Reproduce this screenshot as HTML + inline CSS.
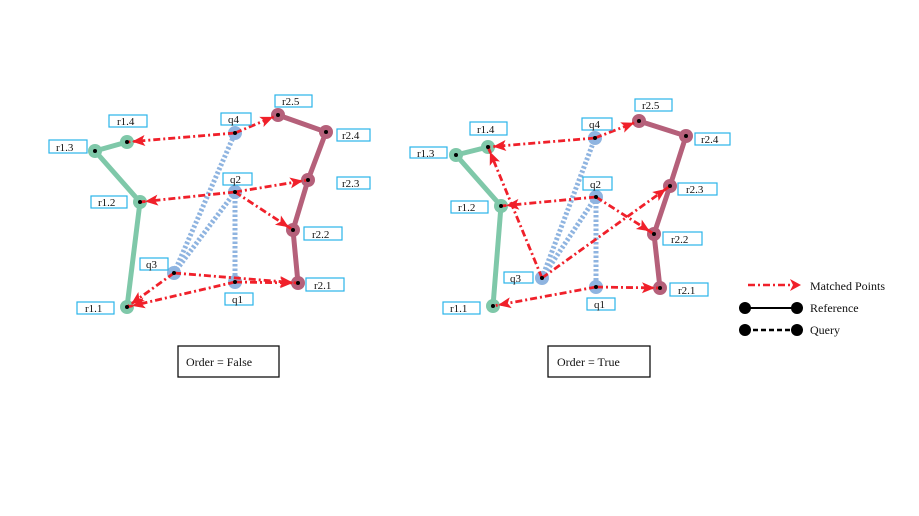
<!DOCTYPE html>
<html><head><meta charset="utf-8"><style>
html,body{margin:0;padding:0;background:#fff;}
svg{display:block;}
text{font-family:"Liberation Serif",serif;font-size:11px;fill:#111;}
.lb{fill:#fff;stroke:#2ab4ea;stroke-width:1.2;}
.g{stroke:#7fc8a9;stroke-width:5;fill:none;stroke-linejoin:round;stroke-linecap:round;}
.p{stroke:#b5607a;stroke-width:5;fill:none;stroke-linejoin:round;stroke-linecap:round;}
.q{stroke:#8fb4e0;stroke-width:5;stroke-dasharray:2.5 2;fill:none;}
.a{stroke:#f0202a;stroke-width:2.8;stroke-dasharray:7 3 2 3;fill:none;marker-end:url(#ah);}
</style></head><body>
<svg width="919" height="516" viewBox="0 0 919 516" xmlns="http://www.w3.org/2000/svg">
<defs>
<marker id="ah" markerUnits="userSpaceOnUse" markerWidth="13" markerHeight="11" refX="18" refY="5.5" orient="auto" overflow="visible">
<path d="M0,0 L13,5.5 L0,11 L3,5.5 z" fill="#f0202a"/>
</marker>
</defs>

<!-- LEFT PANEL -->
<polyline class="g" points="127,307 140,202 95,151 127,142"/>
<polyline class="p" points="298,283 293,230 308,180 326,132 278,115"/>
<line class="q" x1="174" y1="273" x2="235" y2="133"/>
<line class="q" x1="174" y1="273" x2="235" y2="192"/>
<line class="q" x1="235" y1="192" x2="235" y2="282"/>
<g fill="#7fc8a9"><circle cx="127" cy="307" r="7"/><circle cx="140" cy="202" r="7"/><circle cx="95" cy="151" r="7"/><circle cx="127" cy="142" r="7"/></g>
<g fill="#b5607a"><circle cx="298" cy="283" r="7"/><circle cx="293" cy="230" r="7"/><circle cx="308" cy="180" r="7"/><circle cx="326" cy="132" r="7"/><circle cx="278" cy="115" r="7"/></g>
<g fill="#8fb4e0"><circle cx="235" cy="133" r="7"/><circle cx="235" cy="192" r="7"/><circle cx="174" cy="273" r="7"/><circle cx="235" cy="282" r="7"/></g>
<line class="a" x1="235" y1="133" x2="127" y2="142"/>
<line class="a" x1="235" y1="133" x2="278" y2="115"/>
<line class="a" x1="235" y1="192" x2="140" y2="202"/>
<line class="a" x1="235" y1="192" x2="308" y2="180"/>
<line class="a" x1="235" y1="192" x2="293" y2="230"/>
<line class="a" x1="174" y1="273" x2="127" y2="307"/>
<line class="a" x1="174" y1="273" x2="298" y2="283"/>
<line class="a" x1="235" y1="282" x2="127" y2="307"/>
<line class="a" x1="235" y1="282" x2="298" y2="283"/>
<g fill="#000"><circle cx="127" cy="307" r="2"/><circle cx="140" cy="202" r="2"/><circle cx="95" cy="151" r="2"/><circle cx="127" cy="142" r="2"/><circle cx="298" cy="283" r="2"/><circle cx="293" cy="230" r="2"/><circle cx="308" cy="180" r="2"/><circle cx="326" cy="132" r="2"/><circle cx="278" cy="115" r="2"/><circle cx="235" cy="133" r="2"/><circle cx="235" cy="192" r="2"/><circle cx="174" cy="273" r="2"/><circle cx="235" cy="282" r="2"/></g>
<g>
<rect class="lb" x="275" y="95" width="37" height="12"/><text x="282" y="105">r2.5</text>
<rect class="lb" x="109" y="115" width="38" height="12"/><text x="117" y="125">r1.4</text>
<rect class="lb" x="49" y="140" width="38" height="13"/><text x="56" y="151">r1.3</text>
<rect class="lb" x="91" y="196" width="36" height="12"/><text x="98" y="206">r1.2</text>
<rect class="lb" x="77" y="302" width="37" height="12"/><text x="85" y="312">r1.1</text>
<rect class="lb" x="221" y="113" width="30" height="12"/><text x="228" y="123">q4</text>
<rect class="lb" x="223" y="173" width="29" height="12"/><text x="230" y="183">q2</text>
<rect class="lb" x="140" y="258" width="28" height="12"/><text x="146" y="268">q3</text>
<rect class="lb" x="225" y="293" width="28" height="12"/><text x="232" y="303">q1</text>
<rect class="lb" x="337" y="129" width="33" height="12"/><text x="342" y="139">r2.4</text>
<rect class="lb" x="337" y="177" width="33" height="12"/><text x="342" y="187">r2.3</text>
<rect class="lb" x="304" y="227" width="38" height="13"/><text x="312" y="238">r2.2</text>
<rect class="lb" x="306" y="278" width="38" height="13"/><text x="314" y="289">r2.1</text>
</g>
<rect x="178" y="346" width="101" height="31" fill="#fff" stroke="#111" stroke-width="1.3"/>
<text x="186" y="366" style="font-size:12px">Order = False</text>

<!-- RIGHT PANEL -->
<polyline class="g" points="493,306 501,206 456,155 488,147"/>
<polyline class="p" points="660,288 654,234 670,186 686,136 639,121"/>
<line class="q" x1="542" y1="278" x2="595" y2="138"/>
<line class="q" x1="542" y1="278" x2="596" y2="197"/>
<line class="q" x1="596" y1="197" x2="596" y2="287"/>
<g fill="#7fc8a9"><circle cx="493" cy="306" r="7"/><circle cx="501" cy="206" r="7"/><circle cx="456" cy="155" r="7"/><circle cx="488" cy="147" r="7"/></g>
<g fill="#b5607a"><circle cx="660" cy="288" r="7"/><circle cx="654" cy="234" r="7"/><circle cx="670" cy="186" r="7"/><circle cx="686" cy="136" r="7"/><circle cx="639" cy="121" r="7"/></g>
<g fill="#8fb4e0"><circle cx="595" cy="138" r="7"/><circle cx="596" cy="197" r="7"/><circle cx="542" cy="278" r="7"/><circle cx="596" cy="287" r="7"/></g>
<line class="a" x1="595" y1="138" x2="488" y2="147"/>
<line class="a" x1="595" y1="138" x2="639" y2="121"/>
<line class="a" x1="596" y1="197" x2="501" y2="206"/>
<line class="a" x1="596" y1="197" x2="654" y2="234"/>
<line class="a" x1="542" y1="278" x2="488" y2="147"/>
<line class="a" x1="542" y1="278" x2="670" y2="186"/>
<line class="a" x1="596" y1="287" x2="493" y2="306"/>
<line class="a" x1="596" y1="287" x2="660" y2="288"/>
<g fill="#000"><circle cx="493" cy="306" r="2"/><circle cx="501" cy="206" r="2"/><circle cx="456" cy="155" r="2"/><circle cx="488" cy="147" r="2"/><circle cx="660" cy="288" r="2"/><circle cx="654" cy="234" r="2"/><circle cx="670" cy="186" r="2"/><circle cx="686" cy="136" r="2"/><circle cx="639" cy="121" r="2"/><circle cx="595" cy="138" r="2"/><circle cx="596" cy="197" r="2"/><circle cx="542" cy="278" r="2"/><circle cx="596" cy="287" r="2"/></g>
<g>
<rect class="lb" x="635" y="99" width="37" height="12"/><text x="642" y="109">r2.5</text>
<rect class="lb" x="470" y="122" width="37" height="13"/><text x="477" y="133">r1.4</text>
<rect class="lb" x="410" y="147" width="37" height="11"/><text x="417" y="157">r1.3</text>
<rect class="lb" x="451" y="201" width="37" height="12"/><text x="458" y="211">r1.2</text>
<rect class="lb" x="443" y="302" width="37" height="12"/><text x="450" y="312">r1.1</text>
<rect class="lb" x="582" y="118" width="30" height="12"/><text x="589" y="128">q4</text>
<rect class="lb" x="583" y="177" width="29" height="13"/><text x="590" y="188">q2</text>
<rect class="lb" x="504" y="272" width="29" height="11"/><text x="510" y="282">q3</text>
<rect class="lb" x="587" y="298" width="28" height="12"/><text x="594" y="308">q1</text>
<rect class="lb" x="695" y="133" width="35" height="12"/><text x="701" y="143">r2.4</text>
<rect class="lb" x="678" y="183" width="39" height="12"/><text x="686" y="193">r2.3</text>
<rect class="lb" x="663" y="232" width="39" height="13"/><text x="671" y="243">r2.2</text>
<rect class="lb" x="670" y="283" width="38" height="13"/><text x="678" y="294">r2.1</text>
</g>
<rect x="548" y="346" width="102" height="31" fill="#fff" stroke="#111" stroke-width="1.3"/>
<text x="557" y="366" style="font-size:12px">Order = True</text>

<!-- LEGEND -->
<line x1="748" y1="285" x2="790" y2="285" stroke="#f0202a" stroke-width="2.5" stroke-dasharray="7 3 2 3"/>
<path d="M790,279 L801,285 L790,291 L793,285 z" fill="#f0202a"/>
<text x="810" y="290" style="font-size:12px">Matched Points</text>
<line x1="745" y1="308" x2="797" y2="308" stroke="#000" stroke-width="2"/>
<circle cx="745" cy="308" r="6" fill="#000"/><circle cx="797" cy="308" r="6" fill="#000"/>
<text x="810" y="312" style="font-size:12px">Reference</text>
<line x1="745" y1="330" x2="797" y2="330" stroke="#000" stroke-width="2.5" stroke-dasharray="5 3"/>
<circle cx="745" cy="330" r="6" fill="#000"/><circle cx="797" cy="330" r="6" fill="#000"/>
<text x="810" y="334" style="font-size:12px">Query</text>
</svg>
</body></html>
